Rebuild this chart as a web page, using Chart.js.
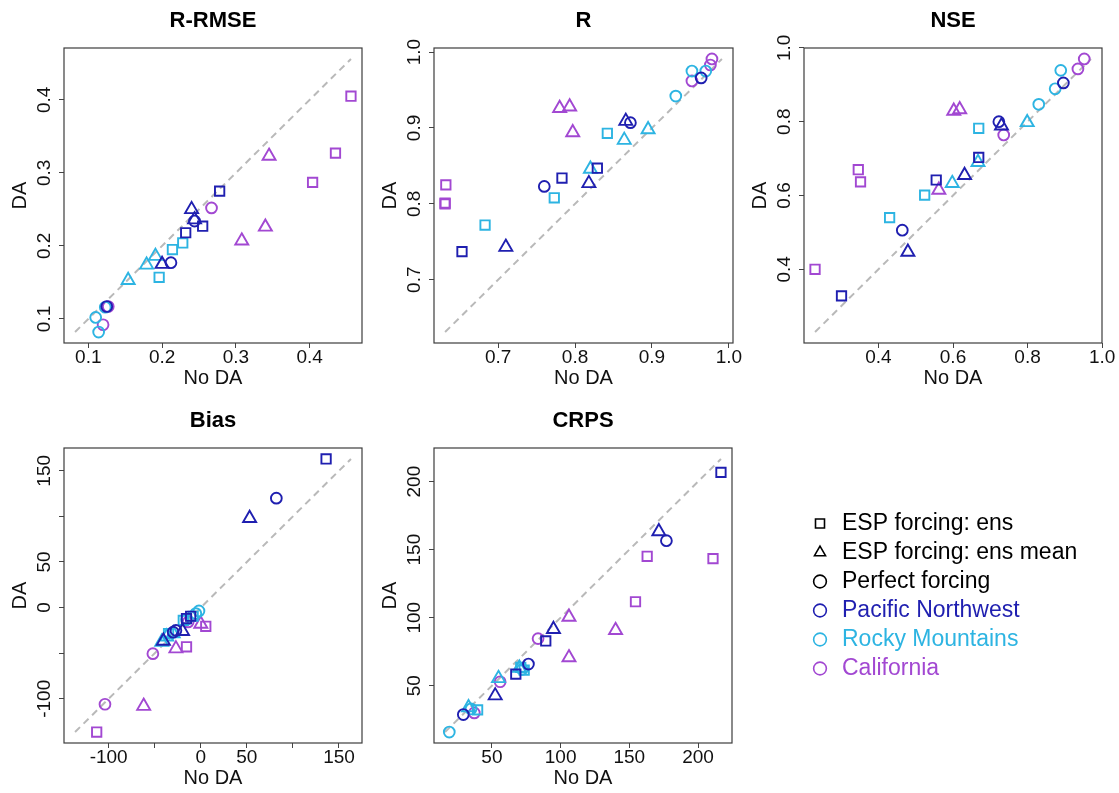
<!DOCTYPE html>
<html>
<head>
<meta charset="utf-8">
<title>DA vs No DA</title>
<script src="https://cdn.jsdelivr.net/npm/chart.js@4.4.1/dist/chart.umd.min.js"></script>
<style>
	html, body { margin: 0; padding: 0; background: #fff; overflow: hidden; }
	#page { position: relative; width: 1119px; height: 793px; overflow: hidden; }
	#page canvas { position: absolute; }
</style>
</head>
<body>
<div id="page">
	<canvas id="rrmseChart" width="373" height="400" style="left:0;top:0"></canvas>
	<canvas id="rChart" width="373" height="400" style="left:373px;top:0"></canvas>
	<canvas id="nseChart" width="373" height="400" style="left:746px;top:0"></canvas>
	<canvas id="biasChart" width="373" height="400" style="left:0;top:400px"></canvas>
	<canvas id="crpsChart" width="373" height="400" style="left:373px;top:400px"></canvas>
	<canvas id="legendChart" width="373" height="393" style="left:746px;top:400px"></canvas>
</div>
<script>
const regions = ['Pacific Northwest', 'Rocky Mountains', 'California'];
const forcings = ['ESP forcing: ens', 'ESP forcing: ens mean', 'Perfect forcing'];

// 27 basins per panel, ordered region by region, then forcing by forcing, 3 basins each
const rrmseNoDA = [0.278, 0.255, 0.232,  0.240, 0.244, 0.200,  0.244, 0.212, 0.125,
                   0.196, 0.214, 0.228,  0.154, 0.179, 0.191,  0.110, 0.114, 0.123,
                   0.456, 0.435, 0.404,  0.345, 0.340, 0.308,  0.267, 0.120, 0.127];
const rrmseDA   = [0.275, 0.227, 0.218,  0.250, 0.236, 0.175,  0.234, 0.177, 0.117,
                   0.157, 0.195, 0.204,  0.153, 0.174, 0.186,  0.102, 0.082, 0.116,
                   0.405, 0.327, 0.287,  0.323, 0.226, 0.207,  0.252, 0.092, 0.117];

const rNoDA = [0.653, 0.783, 0.829,  0.710, 0.818, 0.866,  0.760, 0.872, 0.964,
               0.683, 0.773, 0.842,  0.820, 0.864, 0.895,  0.931, 0.952, 0.970,
               0.632, 0.631, 0.631,  0.780, 0.793, 0.797,  0.978, 0.976, 0.952];
const rDA   = [0.737, 0.834, 0.847,  0.743, 0.827, 0.909,  0.823, 0.907, 0.966,
               0.772, 0.808, 0.893,  0.846, 0.884, 0.898,  0.942, 0.975, 0.975,
               0.825, 0.800, 0.801,  0.926, 0.928, 0.894,  0.991, 0.983, 0.962];

const nseNoDA = [0.301, 0.555, 0.669,  0.479, 0.631, 0.730,  0.464, 0.723, 0.896,
                 0.430, 0.524, 0.669,  0.598, 0.667, 0.799,  0.830, 0.874, 0.889,
                 0.230, 0.346, 0.352,  0.602, 0.618, 0.562,  0.952, 0.935, 0.736];
const nseDA   = [0.328, 0.642, 0.703,  0.447, 0.655, 0.789,  0.506, 0.800, 0.905,
                 0.540, 0.601, 0.782,  0.633, 0.690, 0.798,  0.847, 0.889, 0.939,
                 0.400, 0.670, 0.637,  0.829, 0.833, 0.615,  0.970, 0.943, 0.764];

const biasNoDA = [136, -11, -15.5,  53, -40.6, -19.8,  82, -27, -30,
                  -8.3, -19, -35,  -37, -30, -42.4,  -2, -5.4, -15.5,
                  -113, -15.5, 5.4,  -62, -27, 0,  -104, -52, -13.7];
const biasDA   = [163, -9.5, -12,  98, -36.6, -26,  120, -25, -27,
                  -9.5, -14, -28.5,  -32, -28.5, -37.7,  -3.7, -6.6, -13,
                  -136.5, -43, -20.5,  -108, -45, -18,  -106, -50.5, -15.7];

const crpsNoDA = [216.7, 89.2, 67.4,  171.5, 94.8, 52.4,  177, 76.6, 29.2,
                  71, 39.6, 73.5,  54.8, 33, 70,  19, 34.8, 72,
                  163, 210.9, 154.5,  106.1, 140, 106.1,  83.6, 56, 37.2];
const crpsDA   = [206.8, 82.9, 58.5,  163.4, 91.5, 42.7,  156.6, 65.9, 28.8,
                  63.4, 32.2, 61.5,  55.4, 34, 63,  15.9, 32.9, 62,
                  145.1, 143.4, 111.7,  100.5, 90.7, 70.7,  84.6, 52.9, 30];

const rrmseTicks = [0.1, 0.2, 0.3, 0.4];
const rrmseTickLabels = ['0.1', '0.2', '0.3', '0.4'];
const rTicks = [0.7, 0.8, 0.9, 1.0];
const rTickLabels = ['0.7', '0.8', '0.9', '1.0'];
const nseTicks = [0.4, 0.6, 0.8, 1.0];
const nseTickLabels = ['0.4', '0.6', '0.8', '1.0'];
const biasTicks = [-100, -50, 0, 50, 100, 150];
const biasTickLabels = ['-100', '', '0', '50', '', '150'];
const crpsTicks = [50, 100, 150, 200];
const crpsTickLabels = ['50', '100', '150', '200'];

const regionColors = ['#1f1fb0', '#2db4e2', '#a248d2'];
const forcingShapes = ['rect', 'triangle', 'circle'];
const forcingRadius = [6.6, 7.5, 5.4];
const basinsPerGroup = 3;

const FONT = '"Liberation Sans", Arial, Helvetica, sans-serif';
const TICK_SIZE = 19;
const AXIS_SIZE = 20;

Chart.defaults.font.family = FONT;
Chart.defaults.color = '#111';

const boxPlugin = {
	id: 'box',
	beforeDatasetsDraw(chart) {
		const { ctx, chartArea: { left, top, right, bottom } } = chart;
		ctx.save();
		ctx.strokeStyle = '#3c3c3c';
		ctx.lineWidth = 1.2;
		ctx.strokeRect(left, top, right - left, bottom - top);
		ctx.restore();
	}
};

function widestLabel(labels) {
	const c = document.createElement('canvas').getContext('2d');
	c.font = TICK_SIZE + 'px ' + FONT;
	return Math.max(...labels.map(l => c.measureText(l).width));
}

function panelConfig(canvasId, title, noDA, DA, ticks, tickLabels, yWidth, rightPad) {
	const canvas = document.getElementById(canvasId);
	if (!canvas) return;
	const ctx = canvas.getContext('2d');

	// points, one dataset per region and forcing
	const datasets = [];
	regions.forEach((region, r) => {
		forcings.forEach((forcing, f) => {
			const pts = [];
			for (let k = 0; k < basinsPerGroup; k++) {
				const i = (r * forcings.length + f) * basinsPerGroup + k;
				pts.push({ x: noDA[i], y: DA[i] });
			}
			datasets.push({
				label: region + ' - ' + forcing,
				data: pts,
				pointStyle: forcingShapes[f],
				pointRadius: forcingRadius[f],
				pointHoverRadius: forcingRadius[f],
				pointBorderColor: regionColors[r],
				pointBackgroundColor: 'rgba(0,0,0,0)',
				pointBorderWidth: 1.9,
				order: 0
			});
		});
	});

	// 1:1 line over the range of the data, axes padded 4% like R
	const all = noDA.concat(DA);
	const lo = Math.min(...all);
	const hi = Math.max(...all);
	const pad = (hi - lo) * 0.04;
	datasets.push({
		label: '1:1',
		data: [{ x: lo, y: lo }, { x: hi, y: hi }],
		showLine: true,
		borderColor: '#b9b9b9',
		borderWidth: 2,
		borderDash: [7, 5],
		pointRadius: 0,
		order: 1
	});

	const tickFont = { family: FONT, size: TICK_SIZE, lineHeight: 1 };
	const axisFont = { family: FONT, size: AXIS_SIZE, lineHeight: 1.2 };
	const grid = { drawOnChartArea: false, drawTicks: true, tickLength: 5, tickColor: '#444', tickWidth: 1 };
	const yPad = 14.5 - widestLabel(tickLabels) / 2;

	new Chart(ctx, {
		type: 'scatter',
		data: { datasets },
		options: {
			responsive: false,
			animation: false,
			devicePixelRatio: 1,
			events: [],
			layout: { padding: { left: 0, right: rightPad, top: 0, bottom: 0 } },
			plugins: {
				legend: { display: false },
				tooltip: { enabled: false },
				title: {
					display: true,
					text: title,
					fullSize: false,
					color: '#000',
					font: { family: FONT, size: 22, weight: 'bold', lineHeight: 1.2 },
					padding: { top: 8, bottom: 13.6 }
				}
			},
			scales: {
				x: {
					type: 'linear',
					min: lo - pad,
					max: hi + pad,
					afterBuildTicks: s => { s.ticks = ticks.map(v => ({ value: v })); },
					afterFit: s => { s.height = 57; },
					grid: grid,
					border: { display: false },
					ticks: {
						autoSkip: false,
						minRotation: 0,
						maxRotation: 0,
						padding: 0.5,
						color: '#111',
						font: tickFont,
						callback: (v, i) => tickLabels[i]
					},
					title: { display: true, text: 'No DA', color: '#111', font: axisFont, padding: { top: 0, bottom: 9.5 } }
				},
				y: {
					type: 'linear',
					min: lo - pad,
					max: hi + pad,
					afterBuildTicks: s => { s.ticks = ticks.map(v => ({ value: v })); },
					afterFit: s => { s.width = yWidth; },
					grid: grid,
					border: { display: false },
					ticks: {
						autoSkip: false,
						minRotation: 90,
						maxRotation: 90,
						crossAlign: 'center',
						padding: yPad,
						color: '#111',
						font: tickFont,
						callback: (v, i) => tickLabels[i]
					},
					title: { display: true, text: 'DA', color: '#111', font: axisFont, padding: { top: yWidth - 44 - AXIS_SIZE * 0.6, bottom: 0 } }
				}
			}
		},
		plugins: [boxPlugin]
	});
}

function legendChartConfig() {
	const canvas = document.getElementById('legendChart');
	if (!canvas) return;
	const ctx = canvas.getContext('2d');

	const items = forcings.map((f, i) => ({
		text: f, pointStyle: forcingShapes[i], strokeStyle: '#000', fillStyle: 'rgba(0,0,0,0)',
		fontColor: '#000', lineWidth: 1.6, hidden: false
	})).concat(regions.map((r, i) => ({
		text: r, pointStyle: 'circle', strokeStyle: regionColors[i], fillStyle: 'rgba(0,0,0,0)',
		fontColor: regionColors[i], lineWidth: 1.6, hidden: false
	})));

	new Chart(ctx, {
		type: 'scatter',
		data: { datasets: [] },
		options: {
			responsive: false,
			animation: false,
			devicePixelRatio: 1,
			events: [],
			layout: { padding: { left: 57.5, top: 106, right: 0, bottom: 0 } },
			scales: { x: { display: false }, y: { display: false } },
			plugins: {
				tooltip: { enabled: false },
				legend: {
					display: true,
					position: 'left',
					align: 'start',
					maxWidth: 373,
					labels: {
						usePointStyle: true,
						boxWidth: 21,
						boxHeight: 9,
						padding: 6,
						font: { family: FONT, size: 23 },
						generateLabels: () => items
					}
				}
			}
		}
	});
}

panelConfig('rrmseChart', 'R-RMSE', rrmseNoDA, rrmseDA, rrmseTicks, rrmseTickLabels, 64, 11);
panelConfig('rChart', 'R', rNoDA, rDA, rTicks, rTickLabels, 61, 13);
panelConfig('nseChart', 'NSE', nseNoDA, nseDA, nseTicks, nseTickLabels, 58, 17);
panelConfig('biasChart', 'Bias', biasNoDA, biasDA, biasTicks, biasTickLabels, 64, 11);
panelConfig('crpsChart', 'CRPS', crpsNoDA, crpsDA, crpsTicks, crpsTickLabels, 61, 14);
legendChartConfig();
</script>
</body>
</html>
